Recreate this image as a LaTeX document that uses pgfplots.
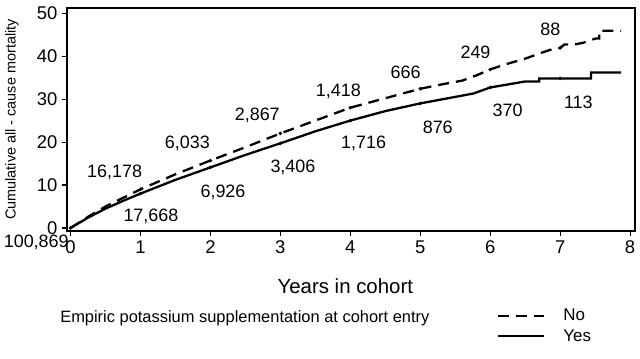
\documentclass[border=0pt]{standalone}
\usepackage{fontspec}
\setmainfont{Liberation Sans}
\usepackage{pgfplots}
\pgfplotsset{compat=1.18}
\begin{document}
\begin{tikzpicture}
\path[use as bounding box] (-67bp,-128bp) rectangle (573bp,231bp);
\begin{axis}[
  at={(0,0)}, anchor=south west,
  scale only axis, width=568bp, height=223bp,
  xmin=-0.05, xmax=8.07, ymin=-0.7, ymax=51.2,
  xtick={0,1,...,8}, ytick={0,10,...,50},
  axis line style={line width=1.3pt},
  tick style={line width=1.1pt, black},
  tick align=outside, major tick length=5bp,
  xtick pos=bottom, ytick pos=left,
  /pgf/number format/assume math mode=true,
  tick label style={font=\fontsize{18.5}{18.5}\selectfont},
  xticklabel style={yshift=-1bp},
  yticklabel style={xshift=-1bp},
  xlabel={Years in cohort},
  xlabel style={font=\fontsize{20.5}{20.5}\selectfont, at={(rel axis cs:0.49,0)}, anchor=center, yshift=-55bp},
  ylabel={Cumulative all - cause mortality},
  ylabel style={font=\fontsize{14.5}{14.5}\selectfont, at={(rel axis cs:0,0.5)}, anchor=center, yshift=55bp},
  clip=false,
  legend style={at={(rel axis cs:0.757,-0.35)}, anchor=north west, draw=none, fill=none,
    font=\fontsize{17}{17}\selectfont, row sep=7bp, inner sep=0pt,
    nodes={inner xsep=18bp, inner ysep=0pt}},
  legend cell align=left,
  legend image code/.code={\draw[#1] (-18bp,0bp) -- (28bp,0bp);},
]
\addplot[black, line width=2.3pt, dash pattern=on 11bp off 7bp] coordinates {
(0,0) (0.25,2.6) (0.5,5) (0.75,7) (1,9.0) (1.5,12.5) (2,15.7) (2.5,18.8) (3,22.0)
(3.5,25.0) (4,28.0) (4.5,30.2) (5,32.4) (5.3,33.4) (5.6,34.3) (5.8,35.5) (6.0,36.9)
(6.2,38.0) (6.5,39.4) (6.7,40.6) (6.9,41.7) (7.0,41.9) (7.06,42.7) (7.2,42.7)
(7.33,43.1) (7.45,43.8) (7.51,44.1) (7.56,44.1) (7.56,45.9) (7.87,45.9)};
\addlegendentry{No}
\addplot[black, line width=2.3pt] coordinates {
(0,0) (0.25,2.4) (0.5,4.5) (0.75,6.3) (1,8.0) (1.5,11.2) (2,14.1) (2.5,17) (3,19.7)
(3.5,22.5) (4,25.0) (4.5,27.2) (5,29.0) (5.3,29.9) (5.76,31.3) (6,32.7) (6.5,34.1)
(6.7,34.1) (6.7,34.8) (7.44,34.8) (7.44,36.2) (7.87,36.2)};
\addlegendentry{Yes}
\addplot[only marks, mark=*, mark size=1.6pt, black, forget plot] coordinates {
(0,0) (1,9.0) (2,15.7) (3,22.0) (4,28.0) (5,32.4) (6,36.9) (7,41.9)
(1,8.0) (2,14.1) (3,19.7) (4,25.0) (5,29.0) (6,32.7) (7,34.8)};
\begin{scope}[font=\fontsize{18}{18}\selectfont]
\node at (axis cs:0.63,13) {16,178};
\node at (axis cs:1.67,19.8) {6,033};
\node at (axis cs:2.67,26.3) {2,867};
\node at (axis cs:3.83,31.8) {1,418};
\node at (axis cs:4.79,36.3) {666};
\node at (axis cs:5.79,40.9) {249};
\node at (axis cs:6.86,46.3) {88};
\node at (axis cs:1.15,2.6) {17,668};
\node at (axis cs:2.18,8.4) {6,926};
\node at (axis cs:3.18,14.2) {3,406};
\node at (axis cs:4.19,19.7) {1,716};
\node at (axis cs:5.25,23.5) {876};
\node at (axis cs:6.25,27.4) {370};
\node at (axis cs:7.26,29.3) {113};
\node at (axis cs:-0.49,-3.3) {100,869};
\end{scope}
\node[anchor=west, font=\fontsize{16.5}{16.5}\selectfont] at (rel axis cs:-0.018,-0.39) {Empiric potassium supplementation at cohort entry};
\end{axis}
\end{tikzpicture}
\end{document}
